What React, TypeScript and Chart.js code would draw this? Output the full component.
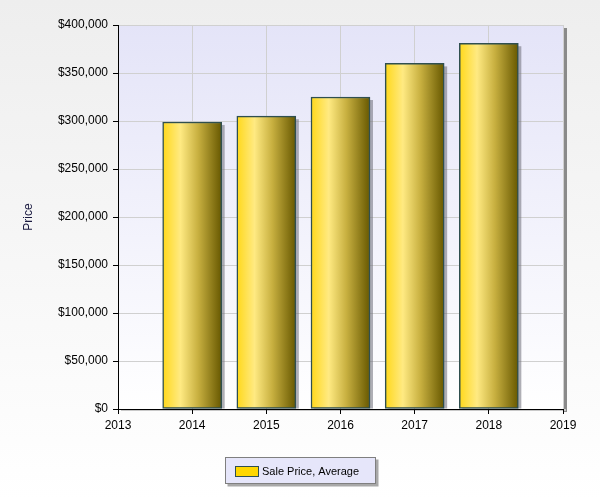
import React, { useEffect, useRef } from "react";
import { Chart, registerables } from "chart.js";

Chart.register(...registerables);

const years = [2014, 2015, 2016, 2017, 2018];
const avgPrices = [299000, 305000, 325000, 360000, 381000];
const seriesLabel = "Sale Price, Average";
const yAxisTitle = "Price";
const xMin = 2013;
const xMax = 2019;
const yMax = 400000;
const yStep = 50000;

const BAR_W = 59;

const bgPlugin = {
  id: "bgPlugin",
  beforeDraw(chart: any) {
    const { ctx, chartArea: a, width, height } = chart;
    ctx.save();
    const g = ctx.createLinearGradient(0, 0, 0, height);
    g.addColorStop(0, "#eeeeee");
    g.addColorStop(1, "#ffffff");
    ctx.fillStyle = g;
    ctx.fillRect(0, 0, width, height);
    // plot area shadow
    ctx.fillStyle = "#8a8a8a";
    ctx.fillRect(a.right, a.top + 3, 4, a.bottom - a.top);
    ctx.fillStyle = "#c8c8c8";
    ctx.fillRect(a.left + 3, a.bottom, a.right - a.left, 2);
    // plot area gradient
    const pg = ctx.createLinearGradient(0, a.top, 0, a.bottom);
    pg.addColorStop(0, "#e4e4f8");
    pg.addColorStop(1, "#ffffff");
    ctx.fillStyle = pg;
    ctx.fillRect(a.left, a.top, a.right - a.left, a.bottom - a.top);
    ctx.restore();
  },
  beforeDatasetsDraw(chart: any) {
    const { ctx } = chart;
    const meta = chart.getDatasetMeta(0);
    ctx.save();
    ctx.fillStyle = "rgba(110,110,120,0.55)";
    meta.data.forEach((el: any) => {
      const w = el.width;
      const x0 = el.x - w / 2;
      const top = Math.min(el.y, el.base);
      const h = Math.abs(el.base - el.y);
      ctx.fillRect(x0 + 3, top + 3, w, h - 3);
    });
    ctx.restore();
  },
  afterDraw(chart: any) {
    const { ctx } = chart;
    // legend box
    const lx = 225.5, ly = 457.5, lw = 150, lh = 26;
    ctx.save();
    ctx.fillStyle = "#a8a8a8";
    ctx.fillRect(lx + 2, ly + 2, lw + 1, lh + 1);
    ctx.fillStyle = "#e6e6fa";
    ctx.fillRect(lx, ly, lw, lh);
    ctx.strokeStyle = "#7f7f7f";
    ctx.lineWidth = 1;
    ctx.strokeRect(lx, ly, lw, lh);
    ctx.fillStyle = "#ffd700";
    ctx.fillRect(235.5, 466.5, 23, 10);
    ctx.strokeStyle = "#2f4f4f";
    ctx.strokeRect(235.5, 466.5, 23, 10);
    ctx.fillStyle = "#000000";
    ctx.font = "11px 'Liberation Sans', Arial, sans-serif";
    ctx.textBaseline = "middle";
    ctx.textAlign = "left";
    ctx.fillText(chart.data.datasets[0].label, 262, 471.5);
    ctx.restore();
  },
};

export default function App() {
  const ref = useRef<HTMLCanvasElement | null>(null);
  useEffect(() => {
    if (!ref.current) return;
    const chart = new Chart(ref.current, {
      type: "bar",
      data: {
        datasets: [
          {
            label: seriesLabel,
            data: years.map((y, i) => ({ x: y, y: avgPrices[i] })),
            barThickness: BAR_W,
            borderColor: "#2f4f4f",
            borderWidth: 1.5,
            borderSkipped: false,
            backgroundColor: (c: any) => {
              const chart = c.chart;
              const xs = chart.scales?.x;
              if (!xs || c.raw == null) return "#ffd700";
              const cx = xs.getPixelForValue(c.raw.x);
              if (!isFinite(cx)) return "#ffd700";
              const g = chart.ctx.createLinearGradient(cx - BAR_W / 2, 0, cx + BAR_W / 2, 0);
              g.addColorStop(0, "#ffd81a");
              g.addColorStop(0.3, "#ffea82");
              g.addColorStop(0.6, "#c8b040");
              g.addColorStop(1, "#675800");
              return g;
            },
          },
        ],
      },
      options: {
        animation: false,
        responsive: false,
        maintainAspectRatio: false,
        layout: { padding: { top: 25, right: 37, left: 0, bottom: 0 } },
        plugins: { legend: { display: false }, tooltip: { enabled: false } },
        scales: {
          x: {
            type: "linear",
            min: xMin,
            max: xMax,
            offset: false,
            ticks: {
              stepSize: 1,
              color: "#000000",
              font: { size: 12, family: "'Liberation Sans', Arial, sans-serif" },
              padding: 4,
              callback: (v: any) => String(v),
            },
            grid: { offset: false, color: "#d0d0d0", tickColor: "#000000", tickLength: 5 },
            border: { color: "#000000", width: 1 },
            afterFit: (s: any) => {
              s.height = 91;
            },
          },
          y: {
            min: 0,
            max: yMax,
            ticks: {
              stepSize: yStep,
              color: "#000000",
              font: { size: 12, family: "'Liberation Sans', Arial, sans-serif" },
              padding: 5,
              callback: (v: any) => "$" + Number(v).toLocaleString("en-US"),
            },
            grid: { color: "#d0d0d0", tickColor: "#000000", tickLength: 5 },
            border: { color: "#000000", width: 1 },
            title: {
              display: true,
              text: yAxisTitle,
              color: "#1a1a40",
              font: { size: 12, family: "'Liberation Sans', Arial, sans-serif" },
              padding: { top: 21, bottom: 4 },
            },
            afterFit: (s: any) => {
              s.width = 118;
            },
          },
        },
      },
      plugins: [bgPlugin],
    } as any);
    return () => chart.destroy();
  }, []);
  return (
    <div style={{ position: "absolute", left: 0, top: 0, width: 600, height: 500 }}>
      <canvas ref={ref} width={600} height={500} style={{ display: "block" }} />
    </div>
  );
}
